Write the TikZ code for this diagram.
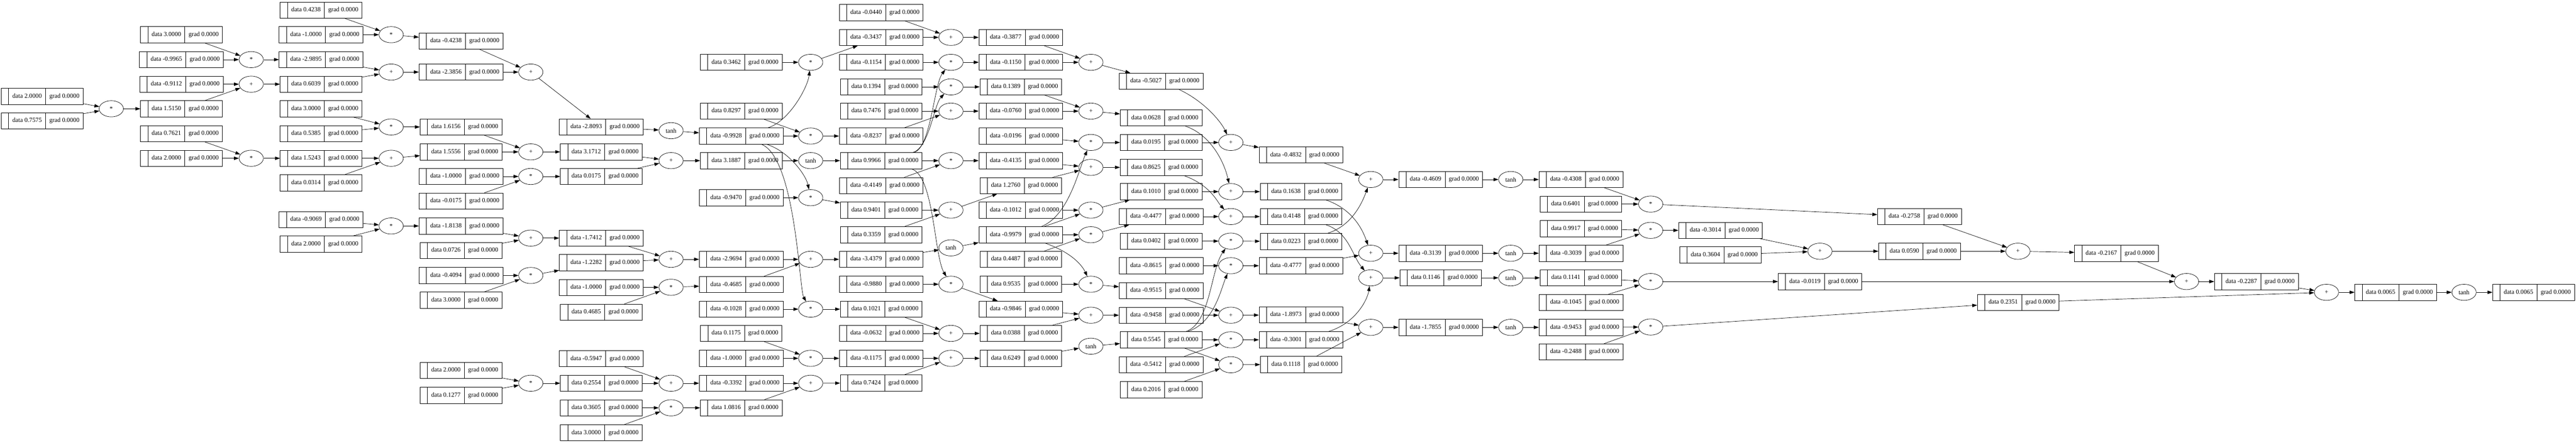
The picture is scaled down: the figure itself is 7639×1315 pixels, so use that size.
\documentclass[tikz,border=0pt]{standalone}
\usepackage{fontspec}
\setmainfont{Liberation Serif}
\usetikzlibrary{shapes.multipart,shapes.geometric,arrows.meta}
\tikzset{
  rec/.style={draw, line width=0.8pt, rectangle split, rectangle split horizontal, rectangle split parts=3, inner xsep=8pt, inner ysep=9.6pt, font=\fontsize{14pt}{16.8pt}\selectfont},
  opn/.style={draw, line width=0.8pt, ellipse, minimum width=54pt, minimum height=36pt, inner sep=0pt, font=\fontsize{14pt}{16.8pt}\selectfont},
  edge/.style={line width=0.8pt, -{Triangle[length=11pt,width=7.5pt]}},
}
\newcommand\MkRec[4]{\node[rec] (#1) at (#2,#3) {\strut\hspace{3.5pt}\nodepart{two}\strut data #4\nodepart{three}\strut grad 0.0000};}
\newcommand\MkOp[4]{\node[opn] (#1) at (#2,#3) {#4};}
\begin{document}
\begin{tikzpicture}[x=0.75pt,y=-0.75pt]
\useasboundingbox (0,0) rectangle (7639,1315);
% column A
\MkRec{a1}{125}{286}{2.0000}
\MkRec{a2}{125}{359}{0.7575}
\MkOp{oa}{330}{323}{*}
% column B
\MkRec{b1}{538}{103}{3.0000}
\MkRec{b2}{538}{177}{-0.9965}
\MkRec{b3}{538}{250}{-0.9112}
\MkRec{b4}{538}{323}{1.5150}
\MkRec{b5}{538}{397}{0.7621}
\MkRec{b6}{538}{470}{2.0000}
\MkOp{ob1}{745}{177}{*}
\MkOp{ob2}{745}{250}{+}
\MkOp{ob3}{745}{470}{*}
% column C
\MkRec{c1}{952}{30}{0.4238}
\MkRec{c2}{952}{103}{-1.0000}
\MkRec{c3}{952}{177}{-2.9895}
\MkRec{c4}{952}{250}{0.6039}
\MkRec{c5}{952}{323}{3.0000}
\MkRec{c6}{952}{397}{0.5385}
\MkRec{c7}{952}{470}{1.5243}
\MkRec{c8}{952}{543}{0.0314}
\MkRec{c9}{952}{652}{-0.9069}
\MkRec{c10}{952}{725}{2.0000}
\MkOp{oc1}{1160}{103}{*}
\MkOp{oc2}{1160}{214}{+}
\MkOp{oc3}{1160}{377}{*}
\MkOp{oc4}{1160}{470}{+}
\MkOp{oc5}{1160}{671}{*}
% column D
\MkRec{d1}{1367}{122}{-0.4238}
\MkRec{d2}{1367}{214}{-2.3856}
\MkRec{d3}{1367}{377}{1.6156}
\MkRec{d4}{1367}{451}{1.5556}
\MkRec{d5}{1367}{524}{-1.0000}
\MkRec{d6}{1367}{597}{-0.0175}
\MkRec{d7}{1367}{671}{-1.8138}
\MkRec{d8}{1367}{744}{0.0726}
\MkRec{d9}{1367}{818}{-0.4094}
\MkRec{d10}{1367}{891}{3.0000}
\MkRec{d11}{1367}{1100}{2.0000}
\MkRec{d12}{1367}{1174}{0.1277}
\MkOp{od1}{1574}{214}{+}
\MkOp{od2}{1574}{451}{+}
\MkOp{od3}{1574}{524}{*}
\MkOp{od4}{1574}{707}{+}
\MkOp{od5}{1574}{818}{*}
\MkOp{od6}{1574}{1138}{*}
% column E
\MkRec{e1}{1783}{377}{-2.8093}
\MkRec{e2}{1783}{451}{3.1712}
\MkRec{e3}{1783}{524}{0.0175}
\MkRec{e4}{1783}{707}{-1.7412}
\MkRec{e5}{1783}{780}{-1.2282}
\MkRec{e6}{1783}{854}{-1.0000}
\MkRec{e7}{1783}{927}{0.4685}
\MkRec{e8}{1783}{1065}{-0.5947}
\MkRec{e9}{1783}{1138}{0.2554}
\MkRec{e10}{1783}{1211}{0.3605}
\MkRec{e11}{1783}{1285}{3.0000}
\MkOp{oe1}{1990}{388}{tanh}
\MkOp{oe2}{1990}{477}{+}
\MkOp{oe3}{1990}{770}{+}
\MkOp{oe4}{1990}{853}{*}
\MkOp{oe5}{1990}{1138}{+}
\MkOp{oe6}{1990}{1211}{*}
% column F
\MkRec{f1}{2198}{185}{0.3462}
\MkRec{f2}{2198}{330}{0.8297}
\MkRec{f3}{2198}{404}{-0.9928}
\MkRec{f4}{2198}{477}{3.1887}
\MkRec{f5}{2198}{587}{-0.9470}
\MkRec{f6}{2198}{770}{-2.9694}
\MkRec{f7}{2198}{845}{-0.4685}
\MkRec{f8}{2198}{918}{-0.1028}
\MkRec{f9}{2198}{990}{0.1175}
\MkRec{f10}{2198}{1064}{-1.0000}
\MkRec{f11}{2198}{1138}{-0.3392}
\MkRec{f12}{2198}{1211}{1.0816}
\MkOp{of1}{2404}{185}{*}
\MkOp{of2}{2404}{404}{*}
\MkOp{of3}{2404}{477}{tanh}
\MkOp{of4}{2404}{587}{*}
\MkOp{of5}{2404}{770}{+}
\MkOp{of6}{2404}{918}{*}
\MkOp{of7}{2404}{1064}{*}
\MkOp{of8}{2404}{1138}{+}
% column G
\MkRec{g1}{2613}{37}{-0.0440}
\MkRec{g2}{2613}{111}{-0.3437}
\MkRec{g3}{2613}{185}{-0.1154}
\MkRec{g4}{2613}{258}{0.1394}
\MkRec{g5}{2613}{330}{0.7476}
\MkRec{g6}{2613}{404}{-0.8237}
\MkRec{g7}{2613}{477}{0.9966}
\MkRec{g8}{2613}{551}{-0.4149}
\MkRec{g9}{2613}{624}{0.9401}
\MkRec{g10}{2613}{697}{0.3359}
\MkRec{g11}{2613}{770}{-3.4379}
\MkRec{g12}{2613}{844}{-0.9880}
\MkRec{g13}{2613}{918}{0.1021}
\MkRec{g14}{2613}{990}{-0.0632}
\MkRec{g15}{2613}{1064}{-0.1175}
\MkRec{g16}{2613}{1137}{0.7424}
\MkOp{og1}{2820}{111}{+}
\MkOp{og2}{2820}{185}{*}
\MkOp{og3}{2820}{258}{*}
\MkOp{og4}{2820}{330}{+}
\MkOp{og5}{2820}{477}{*}
\MkOp{og6}{2820}{624}{+}
\MkOp{og7}{2820}{736}{tanh}
\MkOp{og8}{2820}{844}{*}
\MkOp{og9}{2820}{990}{+}
\MkOp{og10}{2820}{1064}{+}
% column H
\MkRec{h1}{3027}{111}{-0.3877}
\MkRec{h2}{3027}{185}{-0.1150}
\MkRec{h3}{3027}{258}{0.1389}
\MkRec{h4}{3027}{330}{-0.0760}
\MkRec{h5}{3027}{404}{-0.0196}
\MkRec{h6}{3027}{477}{-0.4135}
\MkRec{h7}{3027}{551}{1.2760}
\MkRec{h8}{3027}{624}{-0.1012}
\MkRec{h9}{3027}{697}{-0.9979}
\MkRec{h10}{3027}{770}{0.4487}
\MkRec{h11}{3027}{844}{0.9535}
\MkRec{h12}{3027}{918}{-0.9846}
\MkRec{h13}{3027}{990}{0.0388}
\MkRec{h14}{3027}{1064}{0.6249}
\MkOp{oh1}{3235}{185}{+}
\MkOp{oh2}{3235}{330}{+}
\MkOp{oh3}{3235}{423}{*}
\MkOp{oh4}{3235}{497}{+}
\MkOp{oh5}{3235}{624}{*}
\MkOp{oh6}{3235}{697}{*}
\MkOp{oh7}{3235}{844}{*}
\MkOp{oh8}{3235}{936}{+}
\MkOp{oh9}{3235}{1028}{tanh}
% column I
\MkRec{i1}{3443}{241}{-0.5027}
\MkRec{i2}{3443}{350}{0.0628}
\MkRec{i3}{3443}{423}{0.0195}
\MkRec{i4}{3443}{497}{0.8625}
\MkRec{i5}{3443}{569}{0.1010}
\MkRec{i6}{3443}{643}{-0.4477}
\MkRec{i7}{3443}{716}{0.0402}
\MkRec{i8}{3443}{789}{-0.8615}
\MkRec{i9}{3443}{863}{-0.9515}
\MkRec{i10}{3443}{936}{-0.9458}
\MkRec{i11}{3443}{1009}{0.5545}
\MkRec{i12}{3443}{1083}{-0.5412}
\MkRec{i13}{3443}{1157}{0.2016}
\MkOp{oi1}{3650}{423}{+}
\MkOp{oi2}{3650}{569}{+}
\MkOp{oi3}{3650}{643}{+}
\MkOp{oi4}{3650}{716}{*}
\MkOp{oi5}{3650}{789}{*}
\MkOp{oi6}{3650}{936}{+}
\MkOp{oi7}{3650}{1009}{*}
\MkOp{oi8}{3650}{1083}{*}
% column J
\MkRec{j1}{3858}{460}{-0.4832}
\MkRec{j2}{3858}{569}{0.1638}
\MkRec{j3}{3858}{643}{0.4148}
\MkRec{j4}{3858}{717}{0.0223}
\MkRec{j5}{3858}{789}{-0.4777}
\MkRec{j6}{3858}{935}{-1.8973}
\MkRec{j7}{3858}{1009}{-0.3001}
\MkRec{j8}{3858}{1082}{0.1118}
\MkOp{oj1}{4065}{533}{+}
\MkOp{oj2}{4065}{752}{+}
\MkOp{oj3}{4065}{825}{+}
\MkOp{oj4}{4065}{972}{+}
% column K
\MkRec{k1}{4272}{533}{-0.4609}
\MkRec{k2}{4272}{752}{-0.3139}
\MkRec{k3}{4272}{825}{0.1146}
\MkRec{k4}{4272}{972}{-1.7855}
\MkOp{ok1}{4480}{533}{tanh}
\MkOp{ok2}{4480}{752}{tanh}
\MkOp{ok3}{4480}{825}{tanh}
\MkOp{ok4}{4480}{972}{tanh}
% column L
\MkRec{l1}{4688}{533}{-0.4308}
\MkRec{l2}{4688}{606}{0.6401}
\MkRec{l3}{4688}{679}{0.9917}
\MkRec{l4}{4688}{752}{-0.3039}
\MkRec{l5}{4688}{825}{0.1141}
\MkRec{l6}{4688}{898}{-0.1045}
\MkRec{l7}{4688}{972}{-0.9453}
\MkRec{l8}{4688}{1045}{-0.2488}
\MkOp{ol1}{4895}{606}{*}
\MkOp{ol2}{4895}{684}{*}
\MkOp{ol3}{4895}{836}{*}
\MkOp{ol4}{4895}{971}{*}
% right part
\MkRec{m1}{5102}{684}{-0.3014}
\MkRec{m2}{5102}{757}{0.3604}
\MkOp{om}{5397}{746}{+}
\MkRec{n0}{5397}{836}{-0.0119}
\MkRec{n1}{5692}{643}{-0.2758}
\MkRec{n2}{5692}{746}{0.0590}
\MkOp{on}{5984}{746}{+}
\MkRec{n3}{5985}{898}{0.2351}
\MkRec{p1}{6276}{752}{-0.2167}
\MkOp{oo}{6484}{836}{+}
\MkRec{p2}{6691}{836}{-0.2287}
\MkOp{oP}{6899}{868}{+}
\MkRec{p3}{7104}{868}{0.0065}
\MkOp{ot}{7307}{868}{tanh}
\MkRec{p4}{7513}{868}{0.0065}
% straight edges
\foreach \s/\t in {a1/oa,a2/oa,oa/b4,
  b1/ob1,b2/ob1,ob1/c3,b3/ob2,b4/ob2,ob2/c4,b5/ob3,b6/ob3,ob3/c7,
  c1/oc1,c2/oc1,oc1/d1,c3/oc2,c4/oc2,oc2/d2,c5/oc3,c6/oc3,oc3/d3,c7/oc4,c8/oc4,oc4/d4,c9/oc5,c10/oc5,oc5/d7,
  d1/od1,d2/od1,od1/e1,d3/od2,d4/od2,od2/e2,d5/od3,d6/od3,od3/e3,d7/od4,d8/od4,od4/e4,d9/od5,d10/od5,od5/e5,d11/od6,d12/od6,od6/e9,
  e1/oe1,oe1/f3,e2/oe2,e3/oe2,oe2/f4,e4/oe3,e5/oe3,oe3/f6,e6/oe4,e7/oe4,oe4/f7,e8/oe5,e9/oe5,oe5/f11,e10/oe6,e11/oe6,oe6/f12,
  f1/of1,of1/g2,f2/of2,f3/of2,of2/g6,f4/of3,of3/g7,f5/of4,of4/g9,f6/of5,f7/of5,of5/g11,f8/of6,of6/g13,f9/of7,f10/of7,of7/g15,f11/of8,f12/of8,of8/g16,
  g1/og1,g2/og1,og1/h1,g3/og2,og2/h2,g4/og3,og3/h3,g5/og4,g6/og4,og4/h4,g7/og5,g8/og5,og5/h6,g9/og6,g10/og6,og6/h7,g11/og7,og7/h9,g12/og8,og8/h12,g13/og9,g14/og9,og9/h13,g15/og10,g16/og10,og10/h14,
  h1/oh1,h2/oh1,oh1/i1,h3/oh2,h4/oh2,oh2/i2,h5/oh3,oh3/i3,h6/oh4,h7/oh4,oh4/i4,h8/oh5,h9/oh5,oh5/i5,h9/oh6,h10/oh6,oh6/i6,h11/oh7,oh7/i9,h12/oh8,h13/oh8,oh8/i10,h14/oh9,oh9/i11,
  i3/oi1,oi1/j1,i5/oi2,oi2/j2,i6/oi3,oi3/j3,i7/oi4,oi4/j4,i8/oi5,oi5/j5,i9/oi6,i10/oi6,oi6/j6,i11/oi7,i12/oi7,oi7/j7,i11/oi8,i13/oi8,oi8/j8,
  j1/oj1,oj1/k1,j5/oj2,oj2/k2,oj3/k3,j6/oj4,j8/oj4,oj4/k4,
  k1/ok1,ok1/l1,k2/ok2,ok2/l4,k3/ok3,ok3/l5,k4/ok4,ok4/l7,
  l1/ol1,l2/ol1,ol1/n1,l3/ol2,l4/ol2,ol2/m1,l5/ol3,l6/ol3,ol3/n0,l7/ol4,l8/ol4,ol4/n3,
  m1/om,m2/om,om/n2,n1/on,n2/on,on/p1,p1/oo,n0/oo,oo/p2,p2/oP,n3/oP,oP/p3,p3/ot,ot/p4}
  \draw[edge] (\s) -- (\t);
% curved edges
\draw[edge] (f3) .. controls (2340,360) and (2395,260) .. (of1);
\draw[edge] (f3) .. controls (2340,450) and (2390,520) .. (of4);
\draw[edge] (f3) .. controls (2360,470) and (2370,860) .. (of6);
\draw[edge] (g7) .. controls (2760,440) and (2770,250) .. (og2);
\draw[edge] (g7) .. controls (2755,440) and (2770,310) .. (og3);
\draw[edge] (g7) .. controls (2770,520) and (2770,760) .. (og8);
\draw[edge] (h9) .. controls (3170,640) and (3200,500) .. (oh3);
\draw[edge] (h9) .. controls (3180,750) and (3210,790) .. (oh7);
\draw[edge] (i1) .. controls (3570,300) and (3620,360) .. (oi1);
\draw[edge] (i2) .. controls (3590,400) and (3630,480) .. (oi2);
\draw[edge] (i4) .. controls (3590,550) and (3610,600) .. (oi3);
\draw[edge] (i11) .. controls (3590,960) and (3590,800) .. (oi4);
\draw[edge] (i11) .. controls (3600,960) and (3620,860) .. (oi5);
\draw[edge] (j2) .. controls (4010,620) and (4040,680) .. (oj2);
\draw[edge] (j3) .. controls (4000,690) and (4010,760) .. (oj3);
\draw[edge] (j4) .. controls (4010,670) and (4040,600) .. (oj1);
\draw[edge] (j7) .. controls (4020,960) and (4055,890) .. (oj3);
\end{tikzpicture}
\end{document}
